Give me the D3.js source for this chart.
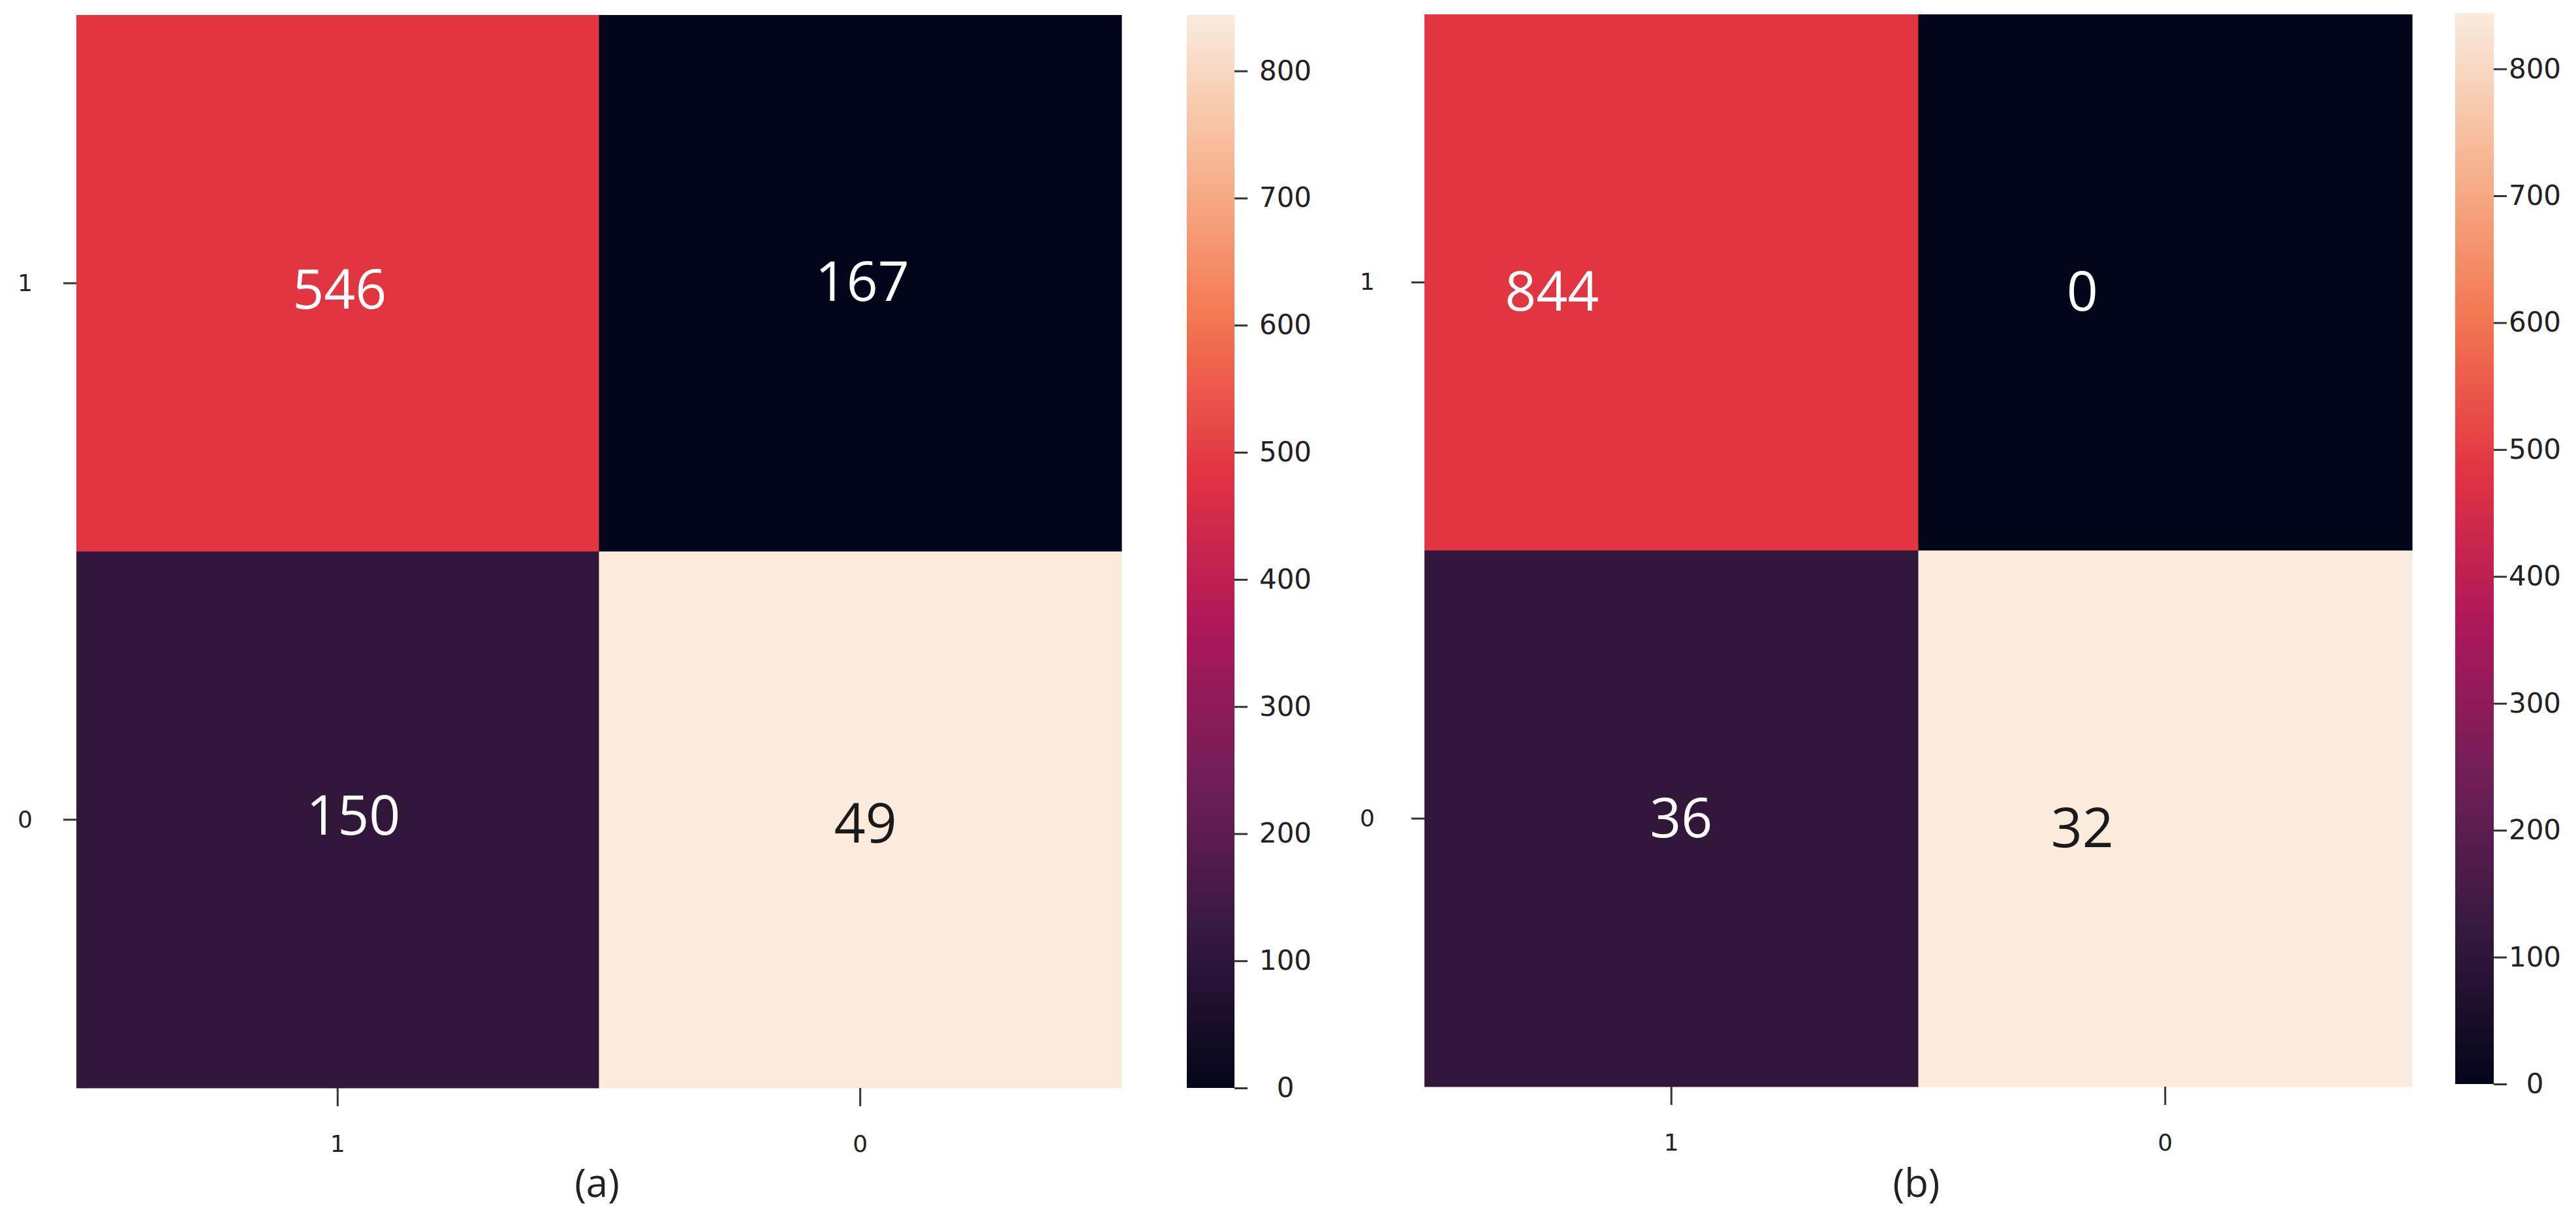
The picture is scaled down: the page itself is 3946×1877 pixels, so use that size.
<!DOCTYPE html>
<html>
<head>
<meta charset="utf-8">
<script src="https://cdn.jsdelivr.net/npm/d3@7"></script>
<style>
  html, body { margin: 0; padding: 0; background: #ffffff; }
  svg { display: block; }
</style>
</head>
<body>
<svg id="chart" width="3946" height="1877"></svg>
<script>
// ---------------- DATA ----------------
const rowCategories = ["1", "0"];
const colCategories = ["1", "0"];

// numbers printed in the cells (row-major: row "1" then row "0")
const cellLabelsA = [546, 167, 150, 49];
const cellLabelsB = [844, 0, 36, 32];

// value implied by each cell's shade, read against the colour bar
const cellShadeA = [485, 0, 112, 844];
const cellShadeB = [485, 0, 112, 844];

const colorbarTicks = [0, 100, 200, 300, 400, 500, 600, 700, 800];
const colorbarMax = 844;
const panelCaptions = ["(a)", "(b)"];

// ---------------- STYLE / LAYOUT ----------------
// rocket-like colour ramp (positions on 0..1)
const rampStops = [
  [0.000, "#03051a"], [0.143, "#35193e"], [0.286, "#701f57"],
  [0.429, "#ad1759"], [0.571, "#e13342"], [0.714, "#f37651"],
  [0.857, "#f6b48f"], [1.000, "#faebdd"]
];
const ramp = d3.scaleLinear()
  .domain(rampStops.map(d => d[0]))
  .range(rampStops.map(d => d[1]))
  .interpolate(d3.interpolateRgb)
  .clamp(true);
const color = v => ramp(v / colorbarMax);

const panels = [
  { labels: cellLabelsA, shade: cellShadeA, caption: panelCaptions[0],
    x0: 117, x1: 1718, y0: 23, y1: 1667,
    cb: { x0: 1818, x1: 1891, y0: 23, y1: 1667, labelX: 1969 },
    rowLabelGap: 47,
    nudge: [[3, 6], [3, -6], [24, -10], [8, 2]] },
  { labels: cellLabelsB, shade: cellShadeB, caption: panelCaptions[1],
    x0: 2182, x1: 3695, y0: 22, y1: 1665,
    cb: { x0: 3761, x1: 3820, y0: 20, y1: 1661, labelX: 3883 },
    rowLabelGap: 56,
    nudge: [[-183, 11], [-127, 11], [15, -4], [-127, 11]] }
];

const svg = d3.select("#chart");
const tickFont = "'DejaVu Sans', sans-serif";
const annotFont = "'Open Sans', 'Noto Sans', sans-serif";

panels.forEach((p, pi) => {
  const g = svg.append("g");
  const x = d3.scaleBand().domain(colCategories).range([p.x0, p.x1]).padding(0);
  const y = d3.scaleBand().domain(rowCategories).range([p.y0, p.y1]).padding(0);

  const cells = [];
  rowCategories.forEach((r, ri) => colCategories.forEach((c, ci) => {
    const k = ri * colCategories.length + ci;
    cells.push({ r, c, label: p.labels[k], shade: p.shade[k], nudge: p.nudge[k] });
  }));

  g.selectAll("rect.cell").data(cells).join("rect")
    .attr("class", "cell")
    .attr("x", d => x(d.c)).attr("y", d => y(d.r))
    .attr("width", x.bandwidth() + 0.5).attr("height", y.bandwidth() + 0.5)
    .attr("fill", d => color(d.shade));

  g.selectAll("text.annot").data(cells).join("text")
    .attr("class", "annot")
    .attr("x", d => x(d.c) + x.bandwidth() / 2 + d.nudge[0])
    .attr("y", d => y(d.r) + y.bandwidth() / 2 + d.nudge[1])
    .attr("text-anchor", "middle")
    .attr("dominant-baseline", "central")
    .attr("font-family", annotFont)
    .attr("font-size", 84)
    .attr("fill", d => (d.shade / colorbarMax) > 0.7 ? "#1a1a1a" : "#ffffff")
    .text(d => d.label);

  // left axis (row labels)
  const yAxis = d3.axisLeft(y).tickSize(20).tickPadding(p.rowLabelGap);
  const ya = g.append("g").attr("transform", `translate(${p.x0},0)`).call(yAxis);
  ya.select(".domain").remove();
  ya.selectAll("line").attr("stroke", "#333").attr("stroke-width", 3);
  ya.selectAll("text").attr("font-family", tickFont).attr("font-size", 36).attr("fill", "#222");

  // bottom axis (column labels)
  const xAxis = d3.axisBottom(x).tickSize(28).tickPadding(44);
  const xa = g.append("g").attr("transform", `translate(0,${p.y1})`).call(xAxis);
  xa.select(".domain").remove();
  xa.selectAll("line").attr("stroke", "#333").attr("stroke-width", 3);
  xa.selectAll("text").attr("font-family", tickFont).attr("font-size", 36).attr("fill", "#222");

  // colour bar
  const cb = p.cb;
  const gradId = "grad" + pi;
  const grad = svg.append("defs").append("linearGradient")
    .attr("id", gradId).attr("x1", 0).attr("y1", 1).attr("x2", 0).attr("y2", 0);
  d3.range(0, 1.0001, 0.02).forEach(t => {
    grad.append("stop").attr("offset", t).attr("stop-color", ramp(t));
  });
  g.append("rect")
    .attr("x", cb.x0).attr("y", cb.y0)
    .attr("width", cb.x1 - cb.x0).attr("height", cb.y1 - cb.y0)
    .attr("fill", `url(#${gradId})`);

  const cbScale = d3.scaleLinear().domain([0, colorbarMax]).range([cb.y1, cb.y0]);
  const cbAxis = d3.axisRight(cbScale).tickValues(colorbarTicks).tickSize(20).tickFormat(d3.format("d"));
  const ca = g.append("g").attr("transform", `translate(${cb.x1},0)`).call(cbAxis);
  ca.select(".domain").remove();
  ca.selectAll("line").attr("stroke", "#333").attr("stroke-width", 3);
  ca.selectAll("text")
    .attr("font-family", tickFont).attr("font-size", 42).attr("fill", "#222")
    .attr("text-anchor", "middle")
    .attr("x", cb.labelX - cb.x1);

  // caption
  g.append("text")
    .attr("x", (p.x0 + p.x1) / 2 - 3)
    .attr("y", 1834)
    .attr("text-anchor", "middle")
    .attr("font-family", annotFont)
    .attr("font-size", 60)
    .attr("fill", "#222")
    .text(p.caption);
});
</script>
</body>
</html>
